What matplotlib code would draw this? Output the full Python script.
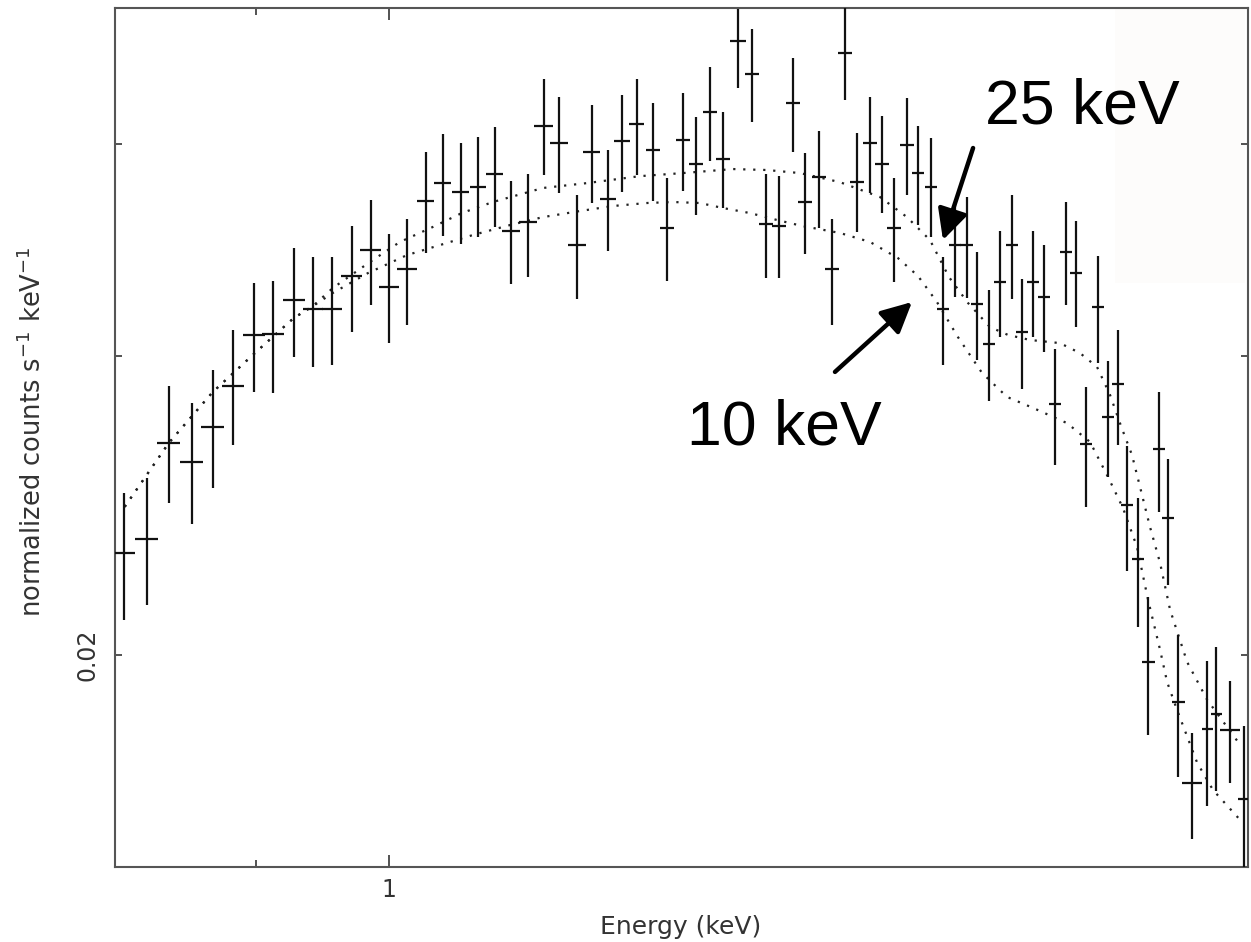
import numpy as np
import matplotlib
matplotlib.use("Agg")
import matplotlib.pyplot as plt
from matplotlib.ticker import FixedLocator, FixedFormatter, NullFormatter, NullLocator
from matplotlib.patches import Rectangle

# binned spectrum: bin centre (keV), half width, flux and error bar ends
energy = [0.8106, 0.8255, 0.8400, 0.8555, 0.8698, 0.8837, 0.8986, 0.9122, 0.9275, 0.9416,
          0.9558, 0.9711, 0.9858, 1.0000, 1.0144, 1.0298, 1.0437, 1.0587, 1.0731, 1.0876,
          1.1015, 1.1164, 1.1307, 1.1442, 1.1606, 1.1745, 1.1895, 1.2028, 1.2172, 1.2327,
          1.2464, 1.2623, 1.2754, 1.2896, 1.3030, 1.3186, 1.3333, 1.3481, 1.3621, 1.3773,
          1.3905, 1.4059, 1.4205, 1.4352, 1.4489, 1.4640, 1.4779, 1.4920, 1.5075, 1.5207,
          1.5364, 1.5511, 1.5659, 1.5805, 1.5935, 1.6087, 1.6228, 1.6383, 1.6513, 1.6658,
          1.6804, 1.6951, 1.7099, 1.7235, 1.7372, 1.7538, 1.7677, 1.7818, 1.7946, 1.8103,
          1.8247, 1.8407, 1.8539, 1.8686, 1.8895, 1.9121, 1.9258, 1.9473, 1.9690]
e_half = [0.0072, 0.0075, 0.0078, 0.0078, 0.0078, 0.0078, 0.0078, 0.0078, 0.0080, 0.0075,
          0.0075, 0.0080, 0.0080, 0.0080, 0.0080, 0.0070, 0.0070, 0.0070, 0.0070, 0.0072,
          0.0080, 0.0080, 0.0085, 0.0080, 0.0080, 0.0080, 0.0075, 0.0075, 0.0072, 0.0072,
          0.0072, 0.0072, 0.0072, 0.0072, 0.0072, 0.0083, 0.0075, 0.0075, 0.0075, 0.0075,
          0.0075, 0.0075, 0.0078, 0.0080, 0.0078, 0.0078, 0.0078, 0.0078, 0.0084, 0.0078,
          0.0078, 0.0078, 0.0078, 0.0078, 0.0078, 0.0078, 0.0078, 0.0078, 0.0078, 0.0078,
          0.0080, 0.0080, 0.0080, 0.0080, 0.0080, 0.0080, 0.0080, 0.0085, 0.0080, 0.0080,
          0.0094, 0.0085, 0.0085, 0.0096, 0.0150, 0.0083, 0.0084, 0.0160, 0.0094]
flux = [0.02297, 0.02341, 0.02666, 0.02598, 0.02725, 0.02880, 0.03087, 0.03091, 0.03237, 0.03197,
        0.03197, 0.03344, 0.03464, 0.03294, 0.03376, 0.03702, 0.03793, 0.03747, 0.03773, 0.03840,
        0.03554, 0.03598, 0.04098, 0.04005, 0.03487, 0.03956, 0.03712, 0.04016, 0.04109, 0.03967,
        0.03569, 0.04021, 0.03892, 0.04177, 0.03919, 0.04599, 0.04397, 0.03588, 0.03578, 0.04228,
        0.03697, 0.03824, 0.03376, 0.04525, 0.03798, 0.04005, 0.03892, 0.03569, 0.03994, 0.03845,
        0.03773, 0.03197, 0.03487, 0.03487, 0.03219, 0.03049, 0.03317, 0.03487, 0.03099, 0.03317,
        0.03250, 0.02811, 0.03454, 0.03357, 0.02663, 0.03206, 0.02762, 0.02888, 0.02451, 0.02278,
        0.01981, 0.02645, 0.02408, 0.01877, 0.01681, 0.01809, 0.01846, 0.01807, 0.01645]
flux_hi = [0.02491, 0.02543, 0.02880, 0.02815, 0.02944, 0.03108, 0.03312, 0.03321, 0.03473, 0.03431,
           0.03431, 0.03578, 0.03707, 0.03540, 0.03613, 0.03956, 0.04054, 0.04005, 0.04037, 0.04093,
           0.03804, 0.03840, 0.04368, 0.04262, 0.03732, 0.04217, 0.03967, 0.04274, 0.04368, 0.04228,
           0.03819, 0.04286, 0.04148, 0.04439, 0.04177, 0.04803, 0.04674, 0.03840, 0.03829, 0.04494,
           0.03951, 0.04070, 0.03613, 0.04809, 0.04059, 0.04262, 0.04154, 0.03819, 0.04257, 0.04098,
           0.04032, 0.03431, 0.03692, 0.03722, 0.03454, 0.03281, 0.03554, 0.03732, 0.03330, 0.03554,
           0.03487, 0.03029, 0.03697, 0.03603, 0.02877, 0.03436, 0.02980, 0.03108, 0.02655, 0.02475,
           0.02164, 0.02857, 0.02609, 0.02055, 0.01799, 0.01984, 0.02022, 0.01931, 0.01816]
flux_lo = [0.02097, 0.02140, 0.02458, 0.02389, 0.02508, 0.02659, 0.02857, 0.02853, 0.02996, 0.02956,
           0.02964, 0.03099, 0.03215, 0.03053, 0.03129, 0.03450, 0.03530, 0.03492, 0.03525, 0.03574,
           0.03308, 0.03339, 0.03835, 0.03742, 0.03241, 0.03692, 0.03459, 0.03747, 0.03835, 0.03702,
           0.03321, 0.03752, 0.03632, 0.03908, 0.03667, 0.04315, 0.04120, 0.03335, 0.03335, 0.03956,
           0.03445, 0.03569, 0.03129, 0.04245, 0.03549, 0.03742, 0.03642, 0.03317, 0.03732, 0.03583,
           0.03525, 0.02964, 0.03250, 0.03246, 0.02984, 0.02822, 0.03078, 0.03241, 0.02869, 0.03078,
           0.03016, 0.02588, 0.03215, 0.03120, 0.02445, 0.02972, 0.02546, 0.02659, 0.02241, 0.02077,
           0.01794, 0.02428, 0.02199, 0.01695, 0.01558, 0.01630, 0.01663, 0.01681, 0.01500]

# the two model curves (25 keV and 10 keV)
model25_e = [0.8112, 0.8400, 0.8698, 0.8993, 0.9275, 0.9416, 0.9566, 0.9851, 1.0088, 1.0355,
             1.0595, 1.0859, 1.1298, 1.1699, 1.2200, 1.2623, 1.3133, 1.3492, 1.3850, 1.4295,
             1.4756, 1.5075, 1.5352, 1.5585, 1.5821, 1.6100, 1.6331, 1.6618, 1.7017, 1.7289,
             1.7524, 1.7705, 1.7860, 1.8016, 1.8131, 1.8275, 1.8421, 1.8568, 1.8820, 1.9121, 1.9596]
model25_f = [0.02445, 0.02666, 0.02857, 0.03012, 0.03159, 0.03210, 0.03290, 0.03408, 0.03502, 0.03574,
             0.03642, 0.03697, 0.03768, 0.03793, 0.03829, 0.03845, 0.03866, 0.03861, 0.03845, 0.03798,
             0.03722, 0.03622, 0.03511, 0.03339, 0.03224, 0.03120, 0.03087, 0.03066, 0.03053, 0.03012,
             0.02956, 0.02846, 0.02728, 0.02623, 0.02512, 0.02379, 0.02266, 0.02126, 0.01981, 0.01882, 0.01777]
model10_e = [0.8112, 0.8400, 0.8698, 0.8993, 0.9275, 0.9416, 0.9566, 0.9835, 1.0144, 1.0412,
             1.0688, 1.1006, 1.1298, 1.1634, 1.1942, 1.2268, 1.2524, 1.2794, 1.3030, 1.3312,
             1.3599, 1.3882, 1.4295, 1.4640, 1.4968, 1.5207, 1.5437, 1.5696, 1.5998, 1.6318,
             1.6658, 1.7112, 1.7427, 1.7677, 1.7888, 1.8088, 1.8247, 1.8421, 1.8524, 1.8671,
             1.8970, 1.9211, 1.9627]
model10_f = [0.02445, 0.02666, 0.02857, 0.03012, 0.03159, 0.03210, 0.03268, 0.03357, 0.03440, 0.03487,
             0.03535, 0.03583, 0.03622, 0.03652, 0.03677, 0.03692, 0.03697, 0.03692, 0.03667, 0.03642,
             0.03608, 0.03578, 0.03545, 0.03502, 0.03426, 0.03344, 0.03228, 0.03078, 0.02932, 0.02838,
             0.02796, 0.02739, 0.02670, 0.02546, 0.02441, 0.02315, 0.02155, 0.02014, 0.01928, 0.01856,
             0.01728, 0.01665, 0.01599]

W, H = 1251, 942
fig = plt.figure(figsize=(W / 100, H / 100), dpi=100)
ax = fig.add_axes([115 / W, 1 - 867 / H, (1248 - 115) / W, (867 - 8) / H])

# faint pasted box behind the "25 keV" label
ax.add_patch(Rectangle((0.8826, 0.68), 0.1148, 0.32, transform=ax.transAxes,
                       facecolor='#fdfcfb', edgecolor='none', zorder=0.5))

dots = (0, (1, 3.5))
ax.plot(model25_e, model25_f, linestyle=dots, color='#222222', lw=1.6, zorder=2)
ax.plot(model10_e, model10_f, linestyle=dots, color='#222222', lw=1.6, zorder=2)

flux = np.array(flux)
yerr = [flux - np.array(flux_lo), np.array(flux_hi) - flux]
ax.errorbar(energy, flux, xerr=e_half, yerr=yerr, fmt='none',
            ecolor='#111111', elinewidth=1.6, capsize=0, zorder=3)

ax.set_xscale('log')
ax.set_yscale('log')
ax.set_xlim(0.805, 1.975)
ax.set_ylim(0.0150, 0.0481)

ax.xaxis.set_major_locator(FixedLocator([1.0]))
ax.xaxis.set_major_formatter(FixedFormatter(['1']))
ax.xaxis.set_minor_locator(FixedLocator([0.9]))
ax.xaxis.set_minor_formatter(NullFormatter())
ax.yaxis.set_major_locator(FixedLocator([0.02, 0.03, 0.04]))
ax.yaxis.set_major_formatter(FixedFormatter(['0.02', '', '']))
ax.yaxis.set_minor_locator(NullLocator())

ax.tick_params(which='both', direction='in', top=True, right=True,
               color='#444444', labelcolor='#333333', width=1.3)
ax.tick_params(axis='x', which='major', length=8.5, labelsize=17, pad=8)
ax.tick_params(axis='x', which='minor', length=5)
ax.tick_params(axis='y', which='major', length=5, labelsize=17, pad=11, labelrotation=90)
plt.setp(ax.get_yticklabels(), va='center')

for s in ax.spines.values():
    s.set_color('#555555')
    s.set_linewidth(1.5)

fig.text(681 / W, 1 - 927 / H, 'Energy (keV)', ha='center', va='center',
         fontsize=18, color='#333333')
fig.text(33 / W, 1 - 432 / H, r'normalized counts s$^{-1}$ keV$^{-1}$', rotation=90,
         ha='center', va='center', fontsize=18.5, color='#333333')

big = dict(fontsize=45, family='Liberation Sans', color='black', ha='left', va='baseline')
ax.text(1.6036, 0.04115, '25 keV', **big)
ax.text(1.2663, 0.02659, '10 keV', **big)
arrow = dict(arrowstyle='-|>', lw=3.2, color='black', mutation_scale=46, shrinkA=0, shrinkB=0)
ax.annotate('', xy=(1.5511, 0.03511), xytext=(1.5885, 0.03978), arrowprops=arrow, zorder=5)
ax.annotate('', xy=(1.5135, 0.03228), xytext=(1.4239, 0.02936), arrowprops=arrow, zorder=5)

fig.savefig('out.png', dpi=100)
